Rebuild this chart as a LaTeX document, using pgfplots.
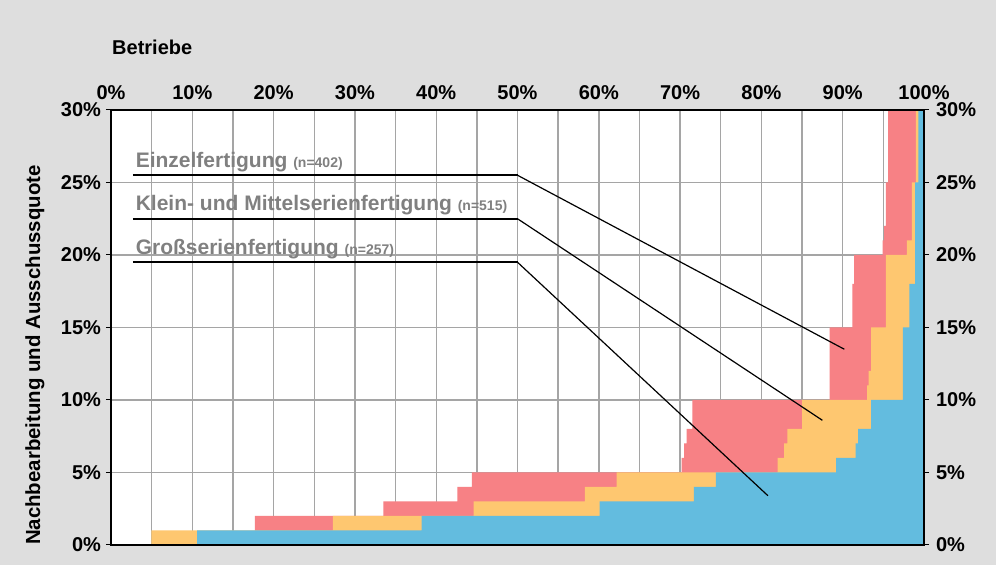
\documentclass[border=0pt]{standalone}
\usepackage{pgfplots}
\pgfplotsset{compat=1.18}
\usepackage{fontspec}
\setmainfont{Liberation Sans}
\definecolor{redc}{RGB}{247,129,133}
\definecolor{orangec}{RGB}{254,199,112}
\definecolor{bluec}{RGB}{99,188,223}
\definecolor{bggray}{RGB}{222,222,222}
\definecolor{gridgray}{RGB}{165,165,165}
\definecolor{txtgray}{RGB}{128,128,128}

\begin{document}
\begin{tikzpicture}
% background (1 px = 0.5pt)
\fill[bggray] (0,0) rectangle (498pt,282.5pt);

\pgfplotsset{
  common/.style={
    at={(55.5pt,10pt)}, anchor=south west,
    scale only axis, width=406.5pt, height=217.5pt,
    xmin=0, xmax=100, ymin=0, ymax=30,
    ytick={0,5,...,30},
    /pgf/number format/assume math mode=true,
    ticklabel style={font=\bfseries\fontsize{10}{11}\selectfont},
    yticklabel={\pgfmathprintnumber{\tick}\%},
    tick align=outside, major tick length=2.5pt,
    tick style={black, line width=0.5pt},
  },
}

\begin{axis}[common,
    axis background/.style={fill=white},
    xtick={0,10,...,100},
    minor xtick={5,15,...,95},
    xticklabel={\pgfmathprintnumber{\tick}\%},
    xticklabel pos=upper,
    xticklabel style={yshift=-1pt},
    yticklabel style={xshift=1pt},
    xtick style={draw=none}, minor tick style={draw=none},
    ytick pos=left,
    grid=both,
    major grid style={gridgray, line width=0.7pt},
    minor grid style={gridgray, line width=0.7pt},
    axis line style={draw=none},
    clip mode=individual,
]

% Einzelfertigung (n=402)
\addplot[const plot, fill=redc, draw=none] coordinates {
  (0,0) (17.7,2) (33.5,3) (42.6,4) (44.4,5)
  (70.2,6) (70.5,7) (70.8,8) (71.5,10)
  (88.4,15) (91.2,18) (91.4,20)
  (94.9,21) (95.1,22) (95.3,25) (95.6,40) (100,40)
} \closedcycle;

% Klein- und Mittelserienfertigung (n=515)
\addplot[const plot, fill=orangec, draw=none] coordinates {
  (0,0) (4.96,1) (27.3,2) (44.6,3) (58.3,4) (62.2,5)
  (82.0,6) (82.8,7) (83.2,8) (85.0,10)
  (93.0,11) (93.2,12) (93.5,15) (95.3,20)
  (97.9,21) (98.5,25) (99.0,40) (100,40)
} \closedcycle;

% Grossserienfertigung (n=257)
\addplot[const plot, fill=bluec, draw=none] coordinates {
  (0,0) (10.6,1) (38.2,2) (60.1,3) (71.7,4) (74.4,5)
  (89.2,6) (91.6,7) (91.9,8) (93.5,10)
  (97.4,15) (98.2,18) (98.9,25) (99.3,40) (100,40)
} \closedcycle;

% axis box
\draw[black, line width=0.65pt] (rel axis cs:0,0) rectangle (rel axis cs:1,1);

% callouts
\draw[black, line width=0.9pt] (axis cs:2.7,25.5) -- (axis cs:50,25.5);
\draw[black, line width=0.6pt] (axis cs:50,25.5) -- (axis cs:90.2,13.5);
\draw[black, line width=0.9pt] (axis cs:2.7,22.5) -- (axis cs:50,22.5);
\draw[black, line width=0.6pt] (axis cs:50,22.5) -- (axis cs:87.5,8.6);
\draw[black, line width=0.9pt] (axis cs:2.7,19.5) -- (axis cs:50,19.5);
\draw[black, line width=0.6pt] (axis cs:50,19.5) -- (axis cs:80.8,3.4);

\node[anchor=south west, inner sep=0pt, text=txtgray, yshift=1.6pt]
  at (axis cs:3.0,25.5) {\bfseries\fontsize{10.5}{11}\selectfont Einzelfertigung \fontsize{7}{8}\selectfont(n=402)};
\node[anchor=south west, inner sep=0pt, text=txtgray, yshift=1.6pt]
  at (axis cs:3.0,22.5) {\bfseries\fontsize{10.5}{11}\selectfont Klein- und Mittelserienfertigung \fontsize{7}{8}\selectfont(n=515)};
\node[anchor=south west, inner sep=0pt, text=txtgray, yshift=1.6pt]
  at (axis cs:3.0,19.5) {\bfseries\fontsize{10.5}{11}\selectfont Gro\ss serienfertigung \fontsize{7}{8}\selectfont(n=257)};

% axis titles
\node[anchor=west, inner sep=0pt] at (axis cs:0.1,34.35)
  {\bfseries\fontsize{10}{11}\selectfont Betriebe};
\node[rotate=90, inner sep=0pt] at (axis cs:-9.35,13.1)
  {\bfseries\fontsize{10.2}{11}\selectfont Nachbearbeitung und Ausschussquote};
\end{axis}

% right-hand y labels
\begin{axis}[common,
    hide x axis,
    axis y line*=right,
    axis line style={draw=none},
]
\addplot[draw=none] coordinates {(0,0)};
\end{axis}
\end{tikzpicture}
\end{document}
